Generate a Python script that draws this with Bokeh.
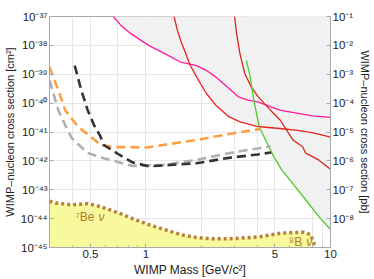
from bokeh.plotting import figure
from bokeh.models import LogAxis, Range1d, FixedTicker, CustomJSTickFormatter, Label
from bokeh.embed import file_html
from bokeh.resources import INLINE

# ---------------- data ----------------
magenta_mass = [0.665, 0.732, 0.825, 1.033, 1.256, 1.54, 1.88, 2.12, 2.39, 2.81, 3.17, 3.57, 4.03, 5.31, 7.96, 10.0]
magenta_xs = [1e-37, 4.9e-38, 2.6e-38, 1.0e-38, 5.3e-39, 2.65e-39, 2.0e-39, 1.37e-39, 8.1e-40, 3.3e-40,
              1.65e-40, 1.27e-40, 1.1e-40, 5.7e-41, 3.6e-41, 3.2e-41]

red1_mass = [1.42, 1.48, 1.54, 1.64, 1.738, 1.88, 2.12, 2.39, 2.81, 3.21, 4.03, 5.31, 6.51, 7.96, 10.0]
red1_xs = [1e-37, 3.3e-38, 1.5e-38, 5.3e-39, 2.0e-39, 8.1e-40, 2.2e-40, 8.5e-41, 3.4e-41, 2.3e-41,
           1.55e-41, 1.32e-41, 1.17e-41, 9.5e-42, 6.7e-42]

red2_mass = [3.02, 3.10, 3.23, 3.43, 3.72, 4.03, 4.37, 4.73, 5.33, 5.78, 6.26, 7.06, 7.34, 8.62, 10.0]
red2_xs = [1e-37, 2.5e-38, 5.2e-39, 1.06e-39, 3.65e-40, 1.74e-40, 9.8e-41, 5.7e-41, 2.6e-41, 1.17e-41,
           5.3e-42, 3.1e-42, 1.85e-42, 1.08e-42, 5.1e-43]

green_mass = [3.50, 3.66, 3.84, 4.11, 4.45, 4.92, 5.44, 7.34, 8.62, 10.0]
green_xs = [3.0e-39, 9.2e-40, 1.27e-40, 1.52e-41, 5.3e-42, 1.4e-42, 4.9e-43, 4.5e-44, 1.2e-44, 4.2e-45]

orange_mass = [0.30, 0.335, 0.365, 0.428, 0.502, 0.567, 0.665, 0.812, 1.01, 1.26, 1.88, 2.81, 4.17]
orange_xs = [1.8e-39, 2.8e-40, 5.7e-41, 1.52e-41, 6.9e-42, 3.6e-42, 3.0e-42, 3.0e-42, 2.9e-42, 3.6e-42,
             5.3e-42, 8.5e-42, 1.27e-41]

lgray_mass = [0.30, 0.335, 0.365, 0.396, 0.481, 0.589, 0.845, 1.26, 1.88, 2.81, 4.03, 4.72]
lgray_xs = [6.2e-40, 5.7e-41, 1.74e-41, 6.2e-42, 1.9e-42, 1.24e-42, 6.7e-43, 7.3e-43, 1.08e-42, 1.85e-42,
            2.7e-42, 3.2e-42]

dgray_mass = [0.411, 0.446, 0.483, 0.523, 0.567, 0.589, 0.720, 0.845, 1.033, 1.26, 1.88, 2.81, 4.03, 4.77]
dgray_xs = [2.0e-39, 2.8e-40, 5.7e-41, 1.74e-41, 6.9e-42, 3.6e-42, 1.6e-42, 8.9e-43, 6.5e-43, 7.0e-43,
            8.3e-43, 1.27e-42, 1.67e-42, 1.96e-42]

nu_mass = [0.30, 0.323, 0.396, 0.483, 0.544, 0.639, 0.750, 0.845, 1.033, 1.26, 1.54, 1.88, 2.30, 2.81,
           4.03, 5.44, 7.17, 7.80, 8.12, 8.14]
nu_xs = [4.0e-44, 3.5e-44, 3.0e-44, 3.3e-44, 2.8e-44, 2.0e-44, 1.37e-44, 1.0e-44, 6.2e-45, 4.2e-45,
         2.8e-45, 2.2e-45, 2.0e-45, 2.0e-45, 2.3e-45, 3.16e-45, 3.4e-45, 2.8e-45, 1.5e-45, 1.0e-45]

x_major_ticks = [0.5, 1, 5, 10]
x_minor_ticks = [0.3, 0.4, 0.6, 0.7, 0.8, 0.9, 2, 3, 4, 6, 7, 8, 9]
x_grid_ticks = [0.4, 0.5, 0.7, 1, 2, 3, 4, 5, 8, 9]
y_cm2_ticks = [1e-37, 1e-38, 1e-39, 1e-40, 1e-41, 1e-42, 1e-43, 1e-44, 1e-45]
y_pb_ticks = [1e-1, 1e-2, 1e-3, 1e-4, 1e-5, 1e-6, 1e-7, 1e-8]

FONT = "Liberation Sans"
TXT = "#222222"
SPINE = "#A8A8A8"
SHADE = "#F1F1F1"
NU_TXT = "#B07A32"

p = figure(width=374, height=279, x_axis_type="log", y_axis_type="log",
           x_range=Range1d(0.3, 10), y_range=Range1d(1e-45, 1e-37),
           output_backend="svg", toolbar_location=None,
           min_border_left=44, min_border_right=38, min_border_top=16, min_border_bottom=31,
           background_fill_color="white", border_fill_color="white")
p.outline_line_color = SPINE
p.extra_y_ranges = {"pb": Range1d(1e-9, 1e-1)}

sup_fmt = CustomJSTickFormatter(code="""
const s = {'-':'\u207b','0':'\u2070','1':'\u00b9','2':'\u00b2','3':'\u00b3','4':'\u2074',
           '5':'\u2075','6':'\u2076','7':'\u2077','8':'\u2078','9':'\u2079'};
const e = Math.round(Math.log10(tick));
return '10' + String(e).split('').map(c => s[c]).join('');
""")
num_fmt = CustomJSTickFormatter(code="return String(tick);")

# excluded region (union of areas above each limit curve)
for mx, sx in [(magenta_mass, magenta_xs), (red1_mass, red1_xs), (red2_mass, red2_xs), (green_mass, green_xs)]:
    p.varea(x=mx, y1=sx, y2=1e-36, fill_color=SHADE)

# neutrino floor
p.varea(x=nu_mass, y1=1e-46, y2=nu_xs, fill_color="#F8F89C")

# limit curves
p.line(magenta_mass, magenta_xs, line_color="#FF1A9C", line_width=1.3)
p.line(red1_mass, red1_xs, line_color="#E8231C", line_width=1.3)
p.line(red2_mass, red2_xs, line_color="#D8261E", line_width=1.3)
p.line(green_mass, green_xs, line_color="#4FCB2A", line_width=1.3)

# projections
p.line(orange_mass, orange_xs, line_color="#FF9F45", line_width=2.6, line_dash="9 5")
p.line(lgray_mass, lgray_xs, line_color="#B0B0B0", line_width=2.6, line_dash="9 5")
p.line(dgray_mass, dgray_xs, line_color="#333333", line_width=2.6, line_dash="9 5")

# neutrino floor boundary
p.line(nu_mass, nu_xs, line_color="#B8803A", line_width=3.5, line_dash="3 3")

# neutrino labels (nu in italic)
p.add_layout(Label(x=0.5, y=1.17e-44, x_offset=4, text="\u2077Be", text_color=NU_TXT,
                   text_font=FONT, text_font_size="12px", text_align="right", text_baseline="middle"))
p.add_layout(Label(x=0.5, y=1.17e-44, x_offset=8, text="\u03bd", text_color=NU_TXT, text_font_style="italic",
                   text_font=FONT, text_font_size="12px", text_align="left", text_baseline="middle"))
p.add_layout(Label(x=6.85, y=1.5e-45, x_offset=2, text="\u2078B", text_color=NU_TXT,
                   text_font=FONT, text_font_size="12px", text_align="right", text_baseline="middle"))
p.add_layout(Label(x=6.85, y=1.5e-45, x_offset=6, text="\u03bd", text_color=NU_TXT, text_font_style="italic",
                   text_font=FONT, text_font_size="12px", text_align="left", text_baseline="middle"))

# grids
p.xgrid.ticker = FixedTicker(ticks=x_grid_ticks)
p.ygrid.ticker = FixedTicker(ticks=y_cm2_ticks)
for g in (p.xgrid, p.ygrid):
    g.grid_line_color = "#E6E6E6"
    g.grid_line_width = 1

# x axis
xa = p.xaxis[0]
xa.ticker = FixedTicker(ticks=x_major_ticks, minor_ticks=x_minor_ticks)
xa.formatter = num_fmt
xa.axis_label = "WIMP Mass [GeV/c\u00b2]"

# left axis
ya = p.yaxis[0]
ya.ticker = FixedTicker(ticks=y_cm2_ticks)
ya.formatter = sup_fmt
ya.axis_label = "WIMP\u2013nucleon cross section [cm\u00b2]"

# right axis
ra = LogAxis(y_range_name="pb", ticker=FixedTicker(ticks=y_pb_ticks), formatter=sup_fmt,
             axis_label="WIMP\u2013nucleon cross section [pb]")
p.add_layout(ra, "right")

for ax in (xa, ya, ra):
    ax.axis_line_color = SPINE
    ax.major_tick_line_color = SPINE
    ax.minor_tick_line_color = SPINE
    ax.major_tick_in = 4
    ax.major_tick_out = 0
    ax.minor_tick_in = 2
    ax.minor_tick_out = 0
    ax.major_label_text_font = FONT
    ax.major_label_text_font_size = "11.5px"
    ax.major_label_text_color = TXT
    ax.axis_label_text_font = FONT
    ax.axis_label_text_font_size = "11px"
    ax.axis_label_text_font_style = "normal"
    ax.axis_label_text_color = TXT
    ax.major_label_standoff = 2
    ax.axis_label_standoff = 2
xa.axis_label_text_font_size = "12px"
ya.minor_tick_line_color = None
ra.minor_tick_line_color = None

open("out.html", "w").write(file_html(p, INLINE))
